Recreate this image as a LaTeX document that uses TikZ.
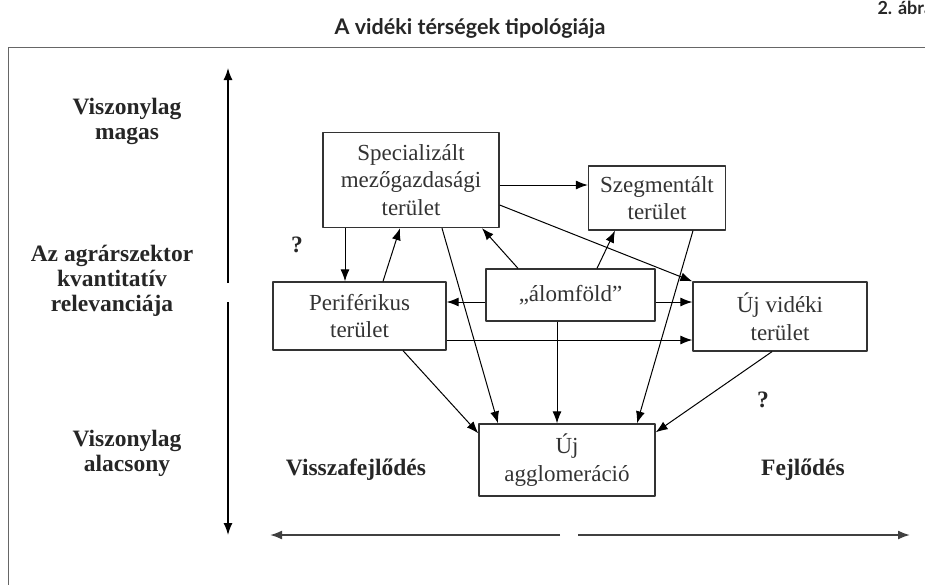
\documentclass[tikz,border=0pt]{standalone}
\usepackage{fontspec}
\setmainfont{Liberation Serif}
\newfontfamily\titlefont{Lato}
\usetikzlibrary{arrows.meta}

\begin{document}
\begin{tikzpicture}[x=1pt, y=-1pt, line join=round, >={Latex[length=12pt,width=9pt]},
  box/.style={draw=black!80, line width=1.3pt, align=center, inner sep=0pt, text=black!80, font=\fontsize{23}{27.5}\selectfont},
  lab/.style={align=center, text=black!85, font=\fontsize{23.5}{25}\selectfont\bfseries},
  conn/.style={->, line width=1pt},
  axis/.style={->, line width=1.4pt}]
	\useasboundingbox (0,0) rectangle (925,584);
	\draw[black!60, line width=1pt] (8,600) -- (8,47) -- (940,47);
	\node[font=\titlefont\bfseries\fontsize{21.5}{24}\selectfont, text=black!85] (title) at (470,28) {A vidéki térségek tipológiája};
	\node[anchor=west, font=\titlefont\bfseries\fontsize{18}{20}\selectfont, text=black!85] (abra) at (874,8) {2. ábra};

	\node[box, minimum width=176pt, minimum height=95pt] (spec) at (411,180) {Specializált\\mezőgazdasági\\terület};
	\node[box, minimum width=137pt, minimum height=64pt] (szeg) at (657,198) {Szegmentált\\terület};
	\node[box, minimum width=169pt, minimum height=52pt] (alom) at (570.5,295) {„álomföld”};
	\node[box, minimum width=173pt, minimum height=68pt] (peri) at (359.5,316) {Periférikus\\terület};
	\node[box, minimum width=174pt, minimum height=69pt] (ujv) at (780,316.5) {Új vidéki\\terület};
	\node[box, minimum width=176pt, minimum height=72pt] (agg) at (567,460) {Új\\agglomeráció};

	\node[lab] (magas) at (127,121) {Viszonylag\\magas};
	\node[lab] (relev) at (112,281) {Az agrárszektor\\kvantitatív\\relevanciája};
	\node[lab] (alacs) at (127,453) {Viszonylag\\alacsony};
	\node[lab] (vissza) at (356,470) {Visszafejlődés};
	\node[lab] (fejl) at (803,470) {Fejlődés};
	\node[lab] (q1) at (297,245) {?};
	\node[lab] (q2) at (763,400) {?};

	\coordinate (vtop) at (228,68);
	\coordinate (vgap1) at (228,283);
	\coordinate (vgap2) at (228,302);
	\coordinate (vbot) at (228,535);
	\coordinate (hleft) at (270,535);
	\coordinate (hgap1) at (560,535);
	\coordinate (hgap2) at (578,535);
	\coordinate (hright) at (910,535);
	\draw[axis] (vgap1) -- (vtop);
	\draw[axis] (vgap2) -- (vbot);
	\draw[axis, black!75, line width=1.8pt] (hgap1) -- (hleft);
	\draw[axis, black!75, line width=1.8pt] (hgap2) -- (hright);

	\draw[conn] ([yshift=-5pt]spec.east) -- ([yshift=-5pt]spec.east -| szeg.west);
	\draw[conn] ([xshift=-66pt]spec.south) -- ([xshift=-66pt]spec.south |- peri.north);
	\draw[conn] ([xshift=23.5pt]peri.north) -- ([xshift=-11pt]spec.south);
	\draw[conn] ([xshift=-52.5pt]alom.north) -- ([xshift=71pt]spec.south);
	\draw[conn] ([xshift=26.5pt]alom.north) -- ([xshift=-42pt]szeg.south);
	\draw[conn] ([yshift=-25pt]spec.east) -- (ujv.north west);
	\draw[conn] ([yshift=-7pt]alom.west) -- ([yshift=-7pt]alom.west -| peri.east);
	\draw[conn] ([yshift=-7pt]alom.east) -- ([yshift=-7pt]alom.east -| ujv.west);
	\draw[conn] ([yshift=-24pt]peri.east) -- ([yshift=-24pt]peri.east -| ujv.west);
	\draw[conn] ([xshift=31pt]spec.south) -- ([xshift=-69pt]agg.north);
	\draw[conn] ([xshift=36pt]szeg.south) -- ([xshift=70pt]agg.north);
	\draw[conn] ([xshift=-13.5pt]alom.south) -- ([xshift=-13.5pt]alom.south |- agg.north);
	\draw[conn] ([xshift=43.5pt]peri.south) -- ([yshift=-10pt]agg.north west);
	\draw[conn] ([xshift=-8pt]ujv.south) -- ([yshift=-9pt]agg.north east);
\end{tikzpicture}
\end{document}
